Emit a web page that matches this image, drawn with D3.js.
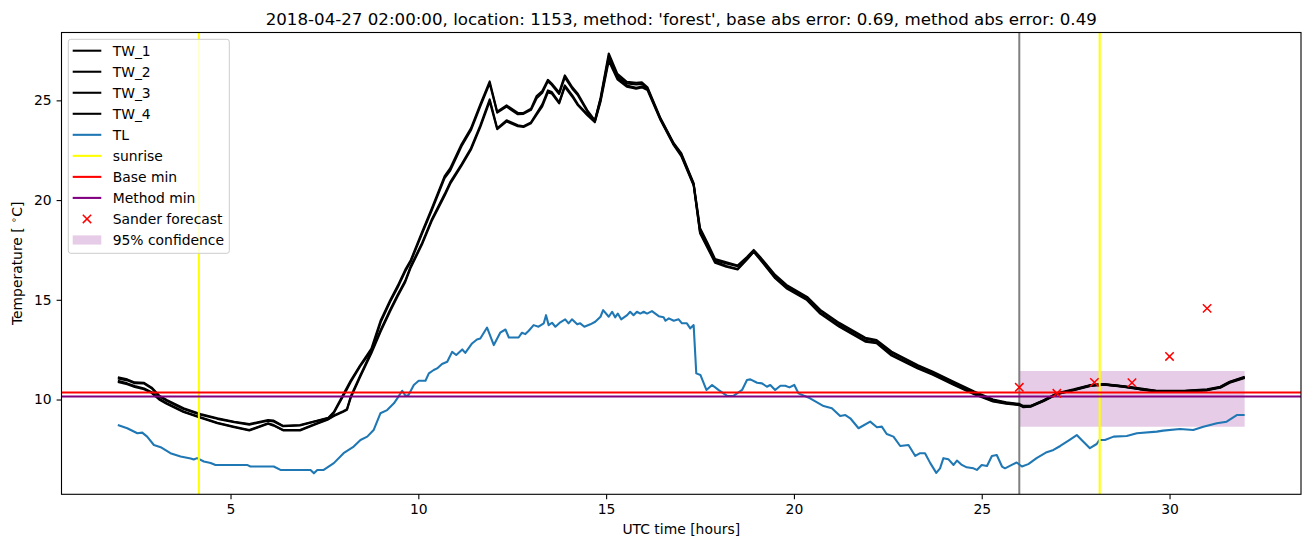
<!DOCTYPE html>
<html>
<head>
<meta charset="utf-8">
<script src="https://cdn.jsdelivr.net/npm/d3@7"></script>
<style>
  html, body { margin: 0; padding: 0; background: #fff; }
  svg { display: block; font-family: "DejaVu Sans", sans-serif; }
</style>
</head>
<body>
<svg id="chart" width="1310" height="547"></svg>
<script>
// ---------------- DATA ----------------
const titleText = "2018-04-27 02:00:00, location: 1153, method: 'forest', base abs error: 0.69, method abs error: 0.49";
const xTicks = [5, 10, 15, 20, 25, 30];
const yTicks = [10, 15, 20, 25];

const twHours = [
  2.0, 2.25, 2.45, 2.7, 2.9, 3.1, 3.3, 3.75, 4.2, 4.65,
  5.1, 5.5, 6.0, 6.15, 6.4, 6.85, 7.3, 7.6, 7.75, 8.0,
  8.1, 8.2, 8.45, 8.75, 9.0, 9.25, 9.45, 9.65, 9.8, 10.1,
  10.35, 10.7, 10.85, 11.15, 11.4, 11.65, 11.9, 12.1, 12.35, 12.65,
  12.8, 13.0, 13.15, 13.3, 13.45, 13.55, 13.75, 13.9, 14.1, 14.25,
  14.5, 14.7, 14.85, 15.07, 15.3, 15.55, 15.8, 15.95, 16.1, 16.45,
  16.8, 17.0, 17.33, 17.5, 17.7, 17.9, 18.2, 18.5, 18.75, 18.93,
  19.1, 19.5, 19.8, 20.35, 20.7, 21.2, 21.9, 22.2, 22.6, 23.3,
  23.7, 24.25, 24.8, 25.3, 25.65, 26.0, 26.1, 26.3, 26.65, 27.0,
  27.45, 27.9, 28.25, 28.75, 29.2, 29.65, 30.4, 31.0, 31.35, 31.6, 32.0
];
const tw1 = [
  11.12, 11.01, 10.86, 10.84, 10.60, 10.20, 9.98, 9.56, 9.27, 9.06,
  8.89, 8.77, 8.97, 8.94, 8.68, 8.72, 8.94, 9.08, 9.38, 10.25,
  10.60, 10.95, 11.72, 12.55, 13.98, 14.98, 15.70, 16.50, 17.00, 18.40,
  19.55, 21.20, 21.60, 22.80, 23.60, 24.80, 25.95, 24.43, 24.75, 24.37,
  24.37, 24.58, 25.22, 25.47, 26.03, 25.85, 25.40, 26.25, 25.66, 25.32,
  24.50, 24.00, 25.12, 27.35, 26.33, 25.93, 25.88, 25.90, 25.66, 24.10,
  22.85, 22.35, 20.85, 18.60, 17.85, 17.05, 16.88, 16.72, 17.15, 17.50,
  17.15, 16.25, 15.75, 15.15, 14.50, 13.85, 13.10, 12.98, 12.40, 11.72,
  11.40, 10.90, 10.40, 10.00, 9.86, 9.78, 9.68, 9.68, 9.97, 10.31,
  10.51, 10.73, 10.78, 10.68, 10.56, 10.44, 10.44, 10.51, 10.64, 10.89, 11.14
];
const tw2 = [
  11.05, 10.96, 10.82, 10.80, 10.56, 10.16, 9.94, 9.52, 9.24, 9.03,
  8.86, 8.74, 8.94, 8.90, 8.66, 8.70, 8.92, 9.06, 9.33, 10.18,
  10.52, 10.88, 11.66, 12.45, 13.88, 14.90, 15.62, 16.42, 16.92, 18.32,
  19.45, 21.10, 21.48, 22.70, 23.50, 24.70, 25.85, 24.38, 24.68, 24.30,
  24.32, 24.52, 25.10, 25.38, 25.95, 25.78, 25.32, 26.15, 25.58, 25.25,
  24.44, 23.95, 25.05, 27.22, 26.22, 25.85, 25.80, 25.82, 25.60, 24.05,
  22.80, 22.30, 20.80, 18.50, 17.76, 16.98, 16.82, 16.68, 17.10, 17.45,
  17.10, 16.19, 15.70, 15.10, 14.45, 13.80, 13.05, 12.93, 12.35, 11.68,
  11.36, 10.86, 10.36, 9.97, 9.83, 9.75, 9.66, 9.66, 9.95, 10.29,
  10.49, 10.71, 10.76, 10.66, 10.54, 10.42, 10.42, 10.49, 10.62, 10.87, 11.12
];
const tw3 = [
  10.94, 10.81, 10.68, 10.55, 10.37, 10.05, 9.82, 9.40, 9.11, 8.84,
  8.64, 8.47, 8.81, 8.72, 8.47, 8.47, 8.81, 9.02, 9.20, 9.42,
  9.52, 10.15, 11.20, 12.40, 13.50, 14.50, 15.25, 15.95, 16.70, 17.85,
  19.00, 20.30, 20.90, 21.80, 22.60, 23.75, 25.05, 23.60, 24.00, 23.75,
  23.70, 23.90, 24.35, 24.80, 25.50, 25.42, 24.90, 25.75, 25.25, 24.80,
  24.30, 23.95, 25.00, 27.10, 26.13, 25.75, 25.63, 25.70, 25.58, 24.05,
  22.80, 22.25, 20.78, 18.40, 17.68, 16.92, 16.70, 16.55, 17.05, 17.42,
  17.05, 16.12, 15.62, 15.02, 14.35, 13.70, 12.95, 12.86, 12.25, 11.60,
  11.28, 10.78, 10.30, 9.93, 9.82, 9.74, 9.64, 9.66, 9.94, 10.28,
  10.48, 10.70, 10.76, 10.66, 10.53, 10.42, 10.42, 10.48, 10.61, 10.86, 11.10
];
const tw4 = [
  10.88, 10.76, 10.63, 10.51, 10.33, 10.00, 9.78, 9.37, 9.08, 8.81,
  8.61, 8.45, 8.78, 8.69, 8.45, 8.45, 8.78, 9.00, 9.17, 9.38,
  9.48, 10.08, 11.12, 12.32, 13.42, 14.42, 15.18, 15.88, 16.62, 17.78,
  18.92, 20.22, 20.82, 21.72, 22.52, 23.66, 24.95, 23.55, 23.94, 23.70,
  23.66, 23.85, 24.28, 24.70, 25.40, 25.35, 24.85, 25.68, 25.18, 24.75,
  24.25, 23.90, 24.92, 26.98, 26.05, 25.68, 25.58, 25.65, 25.52, 24.00,
  22.75, 22.20, 20.72, 18.34, 17.60, 16.86, 16.66, 16.52, 17.02, 17.40,
  17.02, 16.08, 15.58, 14.98, 14.30, 13.66, 12.90, 12.82, 12.20, 11.55,
  11.24, 10.74, 10.26, 9.90, 9.79, 9.72, 9.62, 9.64, 9.92, 10.26,
  10.46, 10.68, 10.74, 10.64, 10.51, 10.40, 10.40, 10.46, 10.59, 10.84, 11.08
];

const tlHours = [
  2.00, 2.25, 2.52, 2.65, 2.78, 2.96, 3.14, 3.40, 3.67, 3.94,
  4.02, 4.11, 4.29, 4.47, 4.60, 5.44, 5.53, 6.15, 6.33, 7.13,
  7.22, 7.31, 7.48, 7.75, 8.01, 8.28, 8.46, 8.64, 8.81, 8.99,
  9.17, 9.35, 9.44, 9.57, 9.66, 9.74, 9.88, 10.01, 10.19, 10.28,
  10.41, 10.50, 10.63, 10.77, 10.90, 11.01, 11.17, 11.25, 11.43, 11.56,
  11.65, 11.83, 12.01, 12.18, 12.32, 12.41, 12.67, 12.76, 12.85, 12.94,
  13.07, 13.20, 13.34, 13.40, 13.47, 13.56, 13.65, 13.78, 13.91, 14.00,
  14.09, 14.23, 14.31, 14.42, 14.58, 14.71, 14.85, 14.92, 15.07, 15.16,
  15.24, 15.31, 15.40, 15.56, 15.64, 15.73, 15.82, 15.91, 16.00, 16.09,
  16.22, 16.40, 16.53, 16.58, 16.67, 16.80, 16.93, 17.02, 17.15, 17.24,
  17.33, 17.40, 17.51, 17.67, 17.82, 17.99, 18.22, 18.39, 18.62, 18.75,
  18.84, 19.02, 19.15, 19.28, 19.37, 19.50, 19.64, 19.77, 19.88, 20.01,
  20.12, 20.43, 20.79, 21.01, 21.23, 21.37, 21.50, 21.72, 22.03, 22.21,
  22.34, 22.47, 22.65, 22.83, 23.05, 23.23, 23.36, 23.49, 23.63, 23.79,
  23.89, 23.98, 24.11, 24.25, 24.34, 24.47, 24.60, 24.78, 24.87, 25.00,
  25.14, 25.27, 25.40, 25.54, 25.62, 25.80, 25.93, 26.07, 26.24, 26.46,
  26.73, 26.91, 27.09, 27.31, 27.53, 27.66, 27.88, 28.06, 28.13, 28.28,
  28.51, 28.86, 29.13, 29.66, 29.83, 30.28, 30.63, 30.90, 31.26, 31.52,
  31.79, 32.00
];
const tlValues = [
  8.72, 8.56, 8.31, 8.34, 8.14, 7.72, 7.61, 7.31, 7.14, 7.04,
  6.99, 7.06, 6.89, 6.82, 6.72, 6.72, 6.64, 6.64, 6.47, 6.47,
  6.30, 6.47, 6.47, 6.81, 7.31, 7.64, 7.97, 8.14, 8.47, 9.31,
  9.47, 9.81, 10.06, 10.44, 10.18, 10.23, 10.73, 10.94, 10.94, 11.31,
  11.48, 11.56, 11.78, 11.89, 12.39, 12.23, 12.51, 12.34, 12.81, 13.01,
  13.06, 13.61, 12.73, 13.35, 13.51, 13.11, 13.11, 13.35, 13.28, 13.45,
  13.73, 13.65, 13.82, 14.23, 13.73, 13.85, 13.65, 13.87, 14.02, 13.82,
  14.02, 13.77, 13.82, 13.65, 13.77, 13.90, 14.15, 14.48, 14.15, 14.40,
  14.12, 14.31, 14.02, 14.23, 14.40, 14.23, 14.40, 14.31, 14.40, 14.31,
  14.43, 14.18, 14.12, 13.95, 14.07, 13.95, 14.02, 13.82, 13.82, 13.57,
  13.73, 11.31, 11.23, 10.48, 10.73, 10.48, 10.18, 10.18, 10.48, 10.98,
  11.01, 10.84, 10.81, 10.64, 10.73, 10.48, 10.69, 10.69, 10.61, 10.73,
  10.31, 10.06, 9.67, 9.56, 9.17, 9.22, 9.06, 8.56, 8.89, 8.61,
  8.64, 8.27, 8.14, 7.67, 7.72, 7.17, 7.31, 7.31, 6.81, 6.32,
  6.55, 7.06, 7.01, 6.72, 6.94, 6.72, 6.60, 6.55, 6.47, 6.72,
  6.67, 7.17, 7.22, 6.64, 6.55, 6.72, 6.84, 6.64, 6.76, 7.06,
  7.36, 7.47, 7.67, 7.94, 8.22, 7.97, 7.56, 7.77, 7.97, 7.97,
  8.14, 8.17, 8.31, 8.39, 8.44, 8.52, 8.47, 8.64, 8.81, 8.89,
  9.22, 9.22
];

const sunriseHours = [4.157, 28.14];
const forecastStart = 26.0;
const baseMin = 10.35;
const methodMin = 10.15;
const forecastHours = [26, 27, 28, 29, 30, 31];
const forecastValues = [10.61, 10.31, 10.86, 10.84, 12.16, 14.57];
const confHours = [26, 32];
const confLow = [8.64, 8.64];
const confHigh = [11.43, 11.43];

const legendLabels = ["TW_1", "TW_2", "TW_3", "TW_4", "TL", "sunrise", "Base min", "Method min", "Sander forecast", "95% confidence"];

// ---------------- LAYOUT ----------------
const svg = d3.select("#chart");
const L = 61.5, R = 1301, T = 32.5, B = 494.3;
const FS = 13.9;

const allX = twHours.concat(tlHours);
const xExt = d3.extent(allX);
const xPad = (xExt[1] - xExt[0]) * 0.05;
const x = d3.scaleLinear().domain([xExt[0] - xPad, xExt[1] + xPad]).range([L, R]);

const allY = [].concat(tw1, tw2, tw3, tw4, tlValues, forecastValues, confLow, confHigh);
const yExt = d3.extent(allY);
const yPad = (yExt[1] - yExt[0]) * 0.05;
const y = d3.scaleLinear().domain([yExt[0] - yPad, yExt[1] + yPad]).range([B, T]);

svg.append("rect").attr("width", 1310).attr("height", 547).attr("fill", "#fff");

svg.append("defs").append("clipPath").attr("id", "clip")
  .append("rect").attr("x", L).attr("y", T).attr("width", R - L).attr("height", B - T);

const plot = svg.append("g").attr("clip-path", "url(#clip)");

// confidence band
const area = d3.area().x((d, i) => x(confHours[i])).y0((d, i) => y(confLow[i])).y1((d, i) => y(confHigh[i]));
plot.append("path").datum(confHours).attr("d", area)
  .attr("fill", "purple").attr("fill-opacity", 0.2).attr("stroke", "none");

// forecast-start gray line
plot.append("line").attr("x1", x(forecastStart)).attr("x2", x(forecastStart))
  .attr("y1", T).attr("y2", B).attr("stroke", "gray").attr("stroke-width", 2);

const lineGen = (hrs) => d3.line().x((d, i) => x(hrs[i])).y(d => y(d));

[tw1, tw2, tw3, tw4].forEach(s => {
  plot.append("path").datum(s).attr("d", lineGen(twHours))
    .attr("fill", "none").attr("stroke", "#000").attr("stroke-width", 2.08)
    .attr("stroke-linejoin", "round");
});
plot.append("path").datum(tlValues).attr("d", lineGen(tlHours))
  .attr("fill", "none").attr("stroke", "#1f77b4").attr("stroke-width", 2.08)
  .attr("stroke-linejoin", "round");

sunriseHours.forEach(h => {
  plot.append("line").attr("x1", x(h)).attr("x2", x(h)).attr("y1", T).attr("y2", B)
    .attr("stroke", "yellow").attr("stroke-width", 2.08);
});
plot.append("line").attr("x1", L).attr("x2", R).attr("y1", y(baseMin)).attr("y2", y(baseMin))
  .attr("stroke", "red").attr("stroke-width", 2.08);
plot.append("line").attr("x1", L).attr("x2", R).attr("y1", y(methodMin)).attr("y2", y(methodMin))
  .attr("stroke", "purple").attr("stroke-width", 2.08);

const xMark = (g, cx, cy) => {
  const s = 4.2;
  g.append("path").attr("d", `M${cx - s},${cy - s}L${cx + s},${cy + s}M${cx - s},${cy + s}L${cx + s},${cy - s}`)
    .attr("stroke", "red").attr("stroke-width", 1.5).attr("fill", "none");
};
forecastValues.forEach((v, i) => xMark(plot, x(forecastHours[i]), y(v)));

// ---------------- AXES ----------------
const xAxis = svg.append("g").attr("transform", `translate(0,${B})`)
  .call(d3.axisBottom(x).tickValues(xTicks).tickSize(4.9).tickPadding(4.9).tickFormat(d3.format("d")));
const yAxis = svg.append("g").attr("transform", `translate(${L},0)`)
  .call(d3.axisLeft(y).tickValues(yTicks).tickSize(4.9).tickPadding(4.9).tickFormat(d3.format("d")));
[xAxis, yAxis].forEach(a => {
  a.select(".domain").remove();
  a.selectAll(".tick line").attr("stroke", "#000").attr("stroke-width", 1.1);
  a.selectAll(".tick text").attr("fill", "#000").style("font-size", FS + "px")
    .style("font-family", "DejaVu Sans");
});

svg.append("rect").attr("x", L).attr("y", T).attr("width", R - L).attr("height", B - T)
  .attr("fill", "none").attr("stroke", "#000").attr("stroke-width", 1.1);

// titles
svg.append("text").attr("x", (L + R) / 2).attr("y", 24.5).attr("text-anchor", "middle")
  .style("font-size", "16.67px").attr("fill", "#000").text(titleText);
svg.append("text").attr("x", (L + R) / 2).attr("y", 534).attr("text-anchor", "middle")
  .style("font-size", FS + "px").attr("fill", "#000").text("UTC time [hours]");
const yl = svg.append("text").attr("transform", `translate(22,${(T + B) / 2}) rotate(-90)`)
  .attr("text-anchor", "middle").style("font-size", FS + "px").attr("fill", "#000");
yl.append("tspan").text("Temperature [ ");
yl.append("tspan").attr("dy", -5).style("font-size", "9.7px").text("∘");
yl.append("tspan").attr("dy", 5).text("C]");

// ---------------- LEGEND ----------------
const lg = svg.append("g");
lg.append("rect").attr("x", 68.3).attr("y", 39.3).attr("width", 161).attr("height", 214)
  .attr("rx", 2.5).attr("fill", "#fff").attr("fill-opacity", 0.8)
  .attr("stroke", "#cccccc").attr("stroke-width", 1);
const legendColors = ["#000", "#000", "#000", "#000", "#1f77b4", "yellow", "red", "purple"];
legendLabels.forEach((lab, i) => {
  const cy = 50.7 + i * 21.03;
  if (i < 8) {
    lg.append("line").attr("x1", 72.7).attr("x2", 101.3).attr("y1", cy).attr("y2", cy)
      .attr("stroke", legendColors[i]).attr("stroke-width", 2.08);
  } else if (i === 8) {
    xMark(lg, 87, cy);
  } else {
    lg.append("rect").attr("x", 72.7).attr("y", cy - 4.6).attr("width", 28.6).attr("height", 9.2)
      .attr("fill", "purple").attr("fill-opacity", 0.2);
  }
  lg.append("text").attr("x", 112.7).attr("y", cy).attr("dy", "0.36em")
    .style("font-size", FS + "px").attr("fill", "#000").text(lab);
});
</script>
</body>
</html>
